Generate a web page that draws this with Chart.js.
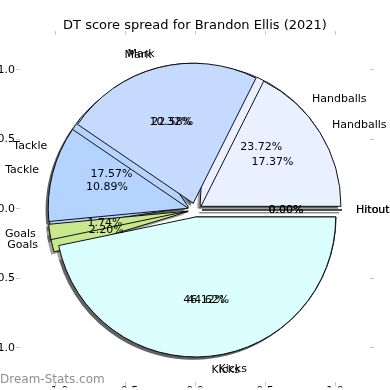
<!DOCTYPE html>
<html>
<head>
<meta charset="utf-8">
<script src="https://cdn.jsdelivr.net/npm/chart.js@4.4.1/dist/chart.umd.min.js"></script>
<style>
  body { margin: 0; background: #fff; }
  #wrap { position: relative; width: 390px; height: 390px; overflow: hidden; }
  #wrap canvas { position: absolute; left: 0; top: 0; }
</style>
</head>
<body>
<div id="wrap">
  <canvas id="axes" width="390" height="390"></canvas>
  <canvas id="pieA" width="390" height="390"></canvas>
  <canvas id="pieB" width="390" height="390"></canvas>
</div>
<script>
// categories in the order the wedges run (anticlockwise from 3 o'clock)
const categories = ['Handballs', 'Mark', 'Tackle', 'Goals', 'Kicks', 'Hitout'];
// two spreads drawn on top of each other (A underneath, B on top), in %
const spreadA = [23.72, 10.32, 17.57, 2.20, 44.62, 0];
const spreadB = [17.37, 22.58, 10.89, 1.74, 46.12, 0];
const wedgeColors = ['#e9f0ff', '#c6d9ff', '#b5d3ff', '#c9e78c', '#dbffff', '#f5deb3'];
const tickValues = [-1, -0.5, 0, 0.5, 1];
const title = 'DT score spread for Brandon Ellis (2021)';
const watermark = 'Dream-Stats.com';

const FONT = '"DejaVu Sans", sans-serif';
const EXPLODE = 0.05;     // fraction of radius
const SHADOW = 0.02;      // shadow shift, fraction of radius
const SHADOW_COLOR = 'rgba(0,0,0,0.38)';
const EDGE = '#111';
const TICK_COLOR = '#c8c8c8';

const rev = arr => arr.slice().reverse();

// ---------- axes, title, watermark ----------
const axisTicks = (pos, showLabels) => ({
    type: 'linear',
    position: pos,
    min: -1.25, max: 1.25,
    afterBuildTicks: s => { s.ticks = tickValues.map(v => ({ value: v })); },
    grid: { display: true, drawOnChartArea: false, drawTicks: true, tickLength: 4, color: TICK_COLOR },
    border: { display: false },
    ticks: {
        display: showLabels,
        color: '#000',
        font: { family: FONT, size: 11 },
        padding: 1,
        callback: v => (v < 0 ? '\u2212' : '') + Math.abs(v).toFixed(1)
    }
});

const watermarkPlugin = {
    id: 'watermark',
    afterDraw(chart) {
        const ctx = chart.ctx;
        ctx.save();
        ctx.font = '12px ' + FONT;
        ctx.fillStyle = '#8f8f8f';
        ctx.textBaseline = 'middle';
        ctx.textAlign = 'left';
        ctx.fillText(watermark, 0, 380);
        ctx.restore();
    }
};

const xBottom = axisTicks('bottom', true);
xBottom.ticks.padding = -2;
xBottom.afterFit = s => { s.height = 5; };
const xTop = axisTicks('top', false);
xTop.afterFit = s => { s.height = 35 - (18 + 13 * 1.2); };
const yLeft = axisTicks('left', true);
yLeft.afterFit = s => { s.width = 20; };
const yRight = axisTicks('right', false);
yRight.afterFit = s => { s.width = 20; };

new Chart(document.getElementById('axes'), {
    type: 'scatter',
    data: { datasets: [] },
    options: {
        responsive: false,
        animation: false,
        events: [],
        layout: { padding: 0 },
        plugins: {
            legend: { display: false },
            tooltip: { enabled: false },
            title: {
                display: true,
                text: title,
                color: '#000',
                font: { family: FONT, size: 13, weight: 'normal', lineHeight: 1.2 },
                padding: { top: 18, bottom: 0 }
            }
        },
        scales: { x: xBottom, x2: xTop, y: yLeft, y2: yRight }
    },
    plugins: [watermarkPlugin]
});

// ---------- pies ----------
let pieA, pieB;

function drawArcs(ctx, chart, shadow) {
    chart.getDatasetMeta(0).data.forEach(arc => {
        const p = arc.getProps(['x', 'y', 'startAngle', 'endAngle', 'outerRadius'], true);
        const mid = (p.startAngle + p.endAngle) / 2;
        const r = p.outerRadius;
        ctx.save();
        if (shadow) ctx.translate(-SHADOW * r, SHADOW * r);
        ctx.translate(Math.cos(mid) * EXPLODE * r, Math.sin(mid) * EXPLODE * r);
        if (p.endAngle - p.startAngle === 0) {
            // empty wedge shows as a single edge
            ctx.beginPath();
            ctx.moveTo(p.x, p.y);
            ctx.lineTo(p.x + Math.cos(mid) * r, p.y + Math.sin(mid) * r);
            ctx.strokeStyle = shadow ? SHADOW_COLOR : EDGE;
            ctx.lineWidth = 1;
            ctx.stroke();
        } else if (shadow) {
            const saved = arc.options;
            arc.options = Object.assign({}, saved, { backgroundColor: SHADOW_COLOR, borderWidth: 0 });
            arc.draw(ctx);
            arc.options = saved;
        } else {
            arc.draw(ctx);
        }
        ctx.restore();
    });
}

function drawLabels(ctx, chart) {
    const ds = chart.data.datasets[0];
    ctx.font = '11px ' + FONT;
    ctx.fillStyle = '#000';
    ctx.textBaseline = 'middle';
    chart.getDatasetMeta(0).data.forEach((arc, i) => {
        const p = arc.getProps(['x', 'y', 'startAngle', 'endAngle', 'outerRadius'], true);
        const mid = (p.startAngle + p.endAngle) / 2;
        const r = p.outerRadius;
        const c = Math.cos(mid), s = Math.sin(mid);
        const lx = p.x + c * (EXPLODE + 1.1) * r;
        const ly = p.y + s * (EXPLODE + 1.1) * r;
        ctx.textAlign = c > 0 ? 'left' : 'right';
        ctx.fillText(chart.data.labels[i], lx, ly);
        ctx.textAlign = 'center';
        ctx.fillText(ds.data[i].toFixed(2) + '%', p.x + c * (EXPLODE + 0.6) * r, p.y + s * (EXPLODE + 0.6) * r);
    });
}

function pieConfig(values, plugin) {
    return {
        type: 'pie',
        data: {
            labels: rev(categories),
            datasets: [{
                data: rev(values),
                backgroundColor: rev(wedgeColors),
                borderColor: EDGE,
                borderWidth: 1,
                radius: 140
            }]
        },
        options: {
            responsive: false,
            animation: false,
            events: [],
            rotation: 90,
            layout: { padding: { top: 30, bottom: 0, left: 10, right: 10 } },
            plugins: { legend: { display: false }, tooltip: { enabled: false } }
        },
        plugins: [plugin]
    };
}

pieA = new Chart(document.getElementById('pieA'), pieConfig(spreadA, {
    id: 'pieLayerA',
    beforeDatasetsDraw(chart) {
        // all shadows sit under all wedges
        drawArcs(chart.ctx, chart, true);
        if (pieB) drawArcs(chart.ctx, pieB, true);
        drawArcs(chart.ctx, chart, false);
        return false;
    }
}));

pieB = new Chart(document.getElementById('pieB'), pieConfig(spreadB, {
    id: 'pieLayerB',
    beforeDatasetsDraw(chart) {
        drawArcs(chart.ctx, chart, false);
        return false;
    },
    afterDraw(chart) {
        // texts of both pies sit above every wedge
        chart.ctx.save();
        drawLabels(chart.ctx, pieA);
        drawLabels(chart.ctx, chart);
        chart.ctx.restore();
    }
}));

pieA.draw();
</script>
</body>
</html>
